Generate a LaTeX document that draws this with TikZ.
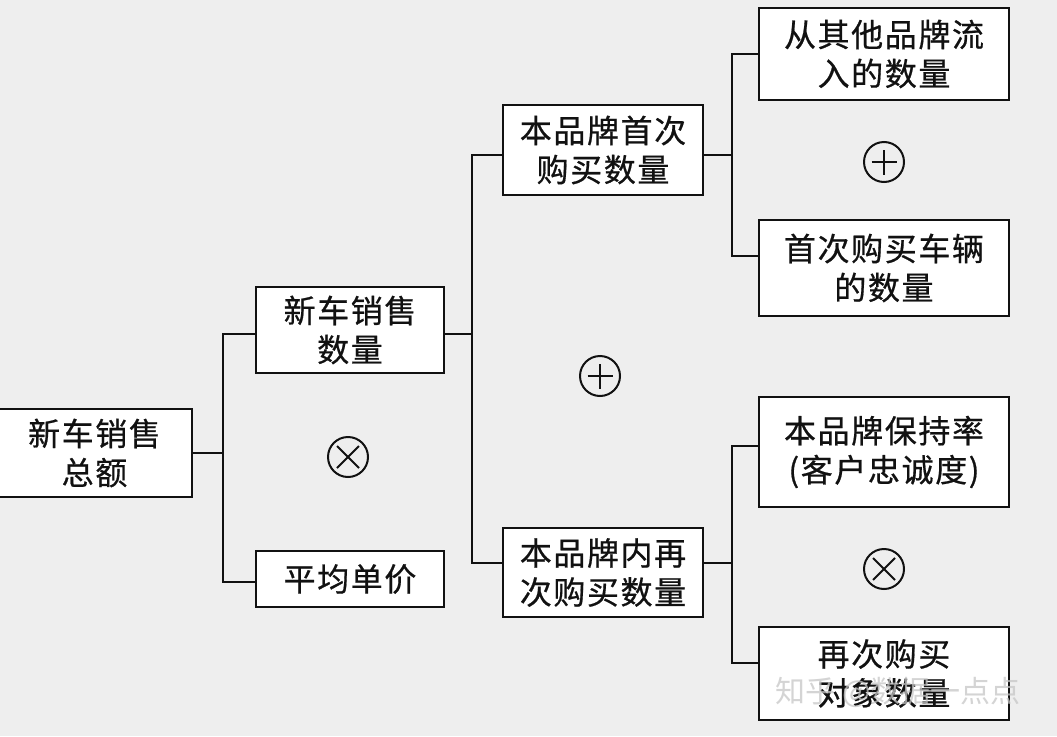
\documentclass[tikz,border=0pt]{standalone}
\usepackage{fontspec}
\newfontfamily\cjk[FakeBold=0.6,LetterSpace=5]{Noto Sans CJK SC}
\newfontfamily\wmfont{Noto Sans CJK SC}
\definecolor{bg}{HTML}{EEEEEE}
\definecolor{ink}{HTML}{111111}
\begin{document}
\begin{tikzpicture}[x=1pt,y=-1pt,
  box/.style={draw=ink,fill=white,line width=2.6pt,inner sep=0pt,align=center,
    font=\cjk\fontsize{32}{39}\selectfont,text=ink},
  conn/.style={draw=ink,line width=2.4pt},
  opcirc/.style={circle,draw=ink,line width=2pt,minimum size=40pt,inner sep=0pt},
  opplus/.style={opcirc,path picture={
    \draw[ink,line width=2pt] ([xshift=-12.5pt]path picture bounding box.center) -- ([xshift=12.5pt]path picture bounding box.center);
    \draw[ink,line width=2pt] ([yshift=-12.5pt]path picture bounding box.center) -- ([yshift=12.5pt]path picture bounding box.center);}},
  optimes/.style={opcirc,path picture={
    \draw[ink,line width=2pt] ([shift={(-11pt,-11pt)}]path picture bounding box.center) -- ([shift={(11pt,11pt)}]path picture bounding box.center);
    \draw[ink,line width=2pt] ([shift={(-11pt,11pt)}]path picture bounding box.center) -- ([shift={(11pt,-11pt)}]path picture bounding box.center);}}
]
\fill[bg] (0,0) rectangle (1057,736);
\useasboundingbox (0,0) rectangle (1057,736);

\node[box,minimum width=195pt,minimum height=88pt] (b1) at (94.5,453) {新车销售\\总额};
\node[box,minimum width=188pt,minimum height=86pt] (b2) at (350,330) {新车销售\\数量};
\node[box,minimum width=188pt,minimum height=56pt] (b3) at (350,579) {平均单价};
\node[box,minimum width=200pt,minimum height=90pt] (b4) at (603,150) {本品牌首次\\购买数量};
\node[box,minimum width=200pt,minimum height=89pt] (b5) at (603,572.5) {本品牌内再\\次购买数量};
\node[box,minimum width=250pt,minimum height=92pt] (b6) at (884,54) {从其他品牌流\\入的数量};
\node[box,minimum width=250pt,minimum height=96pt] (b7) at (884,268) {首次购买车辆\\的数量};
\node[box,minimum width=250pt,minimum height=110pt] (b9) at (884,452) {本品牌保持率\\(客户忠诚度)};
\node[box,minimum width=250pt,minimum height=93pt] (b10) at (884,673.5) {再次购买\\对象数量};

\node[optimes] (o1) at (348,457) {};
\node[opplus] (o2) at (600,376) {};
\node[opplus] (o3) at (884,162) {};
\node[optimes] (o4) at (884,569) {};

\coordinate (j1) at (223,0);
\coordinate (j2) at (472,0);
\coordinate (j3) at (732,0);

\draw[conn] ([xshift=-1pt]b1.east) -- (b1.east -| j1);
\draw[conn] ([yshift=-4pt]b2.west) -| ([yshift=-3pt]b3.west -| j1) -- ([yshift=-3pt]b3.west);

\draw[conn] ([yshift=-4pt]b2.east) -- ([yshift=-4pt]b2.east -| j2);
\draw[conn] ([yshift=-5pt]b4.west) -| ([yshift=9.5pt]b5.west -| j2) -- ([yshift=9.5pt]b5.west);

\draw[conn] ([yshift=-5pt]b4.east) -- ([yshift=-5pt]b4.east -| j3);
\draw[conn] (b6.west) -| ([yshift=12pt]b7.west -| j3) -- ([yshift=12pt]b7.west);

\draw[conn] ([yshift=9.5pt]b5.east) -- ([yshift=9.5pt]b5.east -| j3);
\draw[conn] ([yshift=6pt]b9.west) -| ([yshift=10.5pt]b10.west -| j3) -- ([yshift=10.5pt]b10.west);

\node[font=\wmfont\fontsize{30}{32}\selectfont,text=gray!45,opacity=0.75] (wm) at (898,692) {知乎 @数据一点点};
\end{tikzpicture}
\end{document}
